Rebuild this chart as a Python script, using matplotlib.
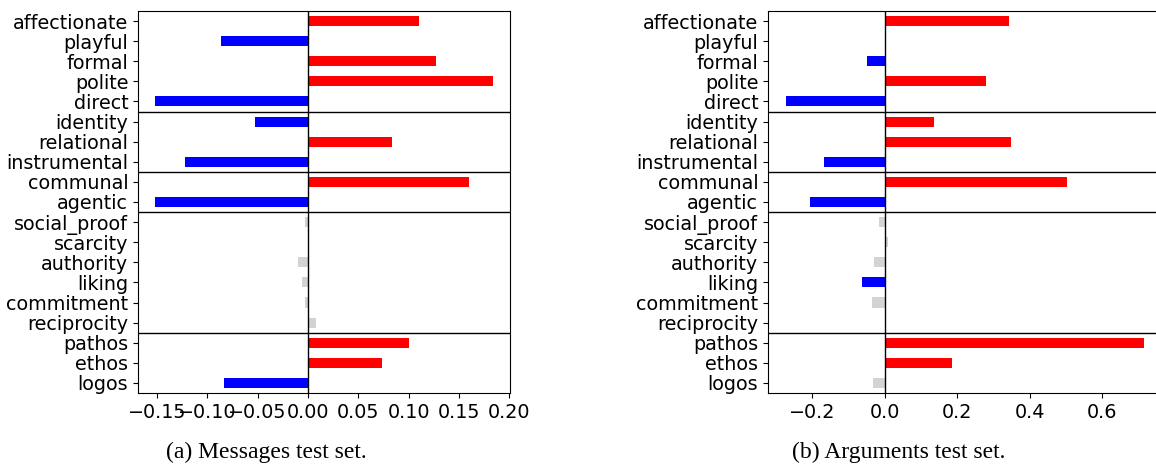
import numpy as np
import matplotlib
matplotlib.use('Agg')
import matplotlib.pyplot as plt

features = ['affectionate', 'playful', 'formal', 'polite', 'direct',
            'identity', 'relational', 'instrumental',
            'communal', 'agentic',
            'social_proof', 'scarcity', 'authority', 'liking', 'commitment', 'reciprocity',
            'pathos', 'ethos', 'logos']
# group boundaries (index of first feature of each new group)
group_starts = [5, 8, 10, 16]

# coefficients, messages test set
msg_coef = [0.110, -0.086, 0.127, 0.184, -0.152,
            -0.053, 0.084, -0.122,
            0.160, -0.152,
            -0.003, 0.0, -0.010, -0.006, -0.003, 0.008,
            0.100, 0.074, -0.083]
msg_sig = [1, 1, 1, 1, 1,
           1, 1, 1,
           1, 1,
           0, 0, 0, 0, 0, 0,
           1, 1, 1]

# coefficients, arguments test set
arg_coef = [0.343, 0.002, -0.050, 0.279, -0.273,
            0.136, 0.348, -0.169,
            0.504, -0.207,
            -0.015, 0.008, -0.030, -0.064, -0.036, 0.0,
            0.714, 0.186, -0.032]
arg_sig = [1, 0, 1, 1, 1,
           1, 1, 1,
           1, 1,
           0, 0, 0, 1, 0, 0,
           1, 1, 0]

plt.rcParams['font.family'] = 'DejaVu Sans'
plt.rcParams['font.size'] = 13.8


def bar_colors(coef, sig):
    cols = []
    for c, s in zip(coef, sig):
        if not s:
            cols.append('lightgray')
        elif c > 0:
            cols.append('red')
        else:
            cols.append('blue')
    return cols


def draw_panel(ax, coef, sig):
    y = np.arange(len(features))
    ax.barh(y, coef, height=0.5, color=bar_colors(coef, sig))
    ax.axvline(0, color='black', lw=1)
    for g in group_starts:
        ax.axhline(g - 0.5, color='black', lw=1)
    ax.set_yticks(y)
    ax.set_yticklabels(features)
    ax.set_ylim(len(features) - 0.5, -0.5)


fig = plt.figure(figsize=(11.56, 4.66), dpi=100)
ax1 = fig.add_axes([0.1194, 0.1567, 0.3218, 0.8197])
ax2 = fig.add_axes([0.6644, 0.1567, 0.3403, 0.8197])

draw_panel(ax1, msg_coef, msg_sig)
ax1.set_xticks([-0.15, -0.10, -0.05, 0.0, 0.05, 0.10, 0.15, 0.20])
ax1.set_xticklabels(['\u22120.15', '\u22120.10', '\u22120.05', '0.00', '0.05', '0.10', '0.15', '0.20'])

draw_panel(ax2, arg_coef, arg_sig)
ax2.set_xticks([-0.2, 0.0, 0.2, 0.4, 0.6])

fig.text(0.230, 0.030, '(a) Messages test set.', ha='center', va='center',
         family='Liberation Serif', fontsize=17)
fig.text(0.777, 0.030, '(b) Arguments test set.', ha='center', va='center',
         family='Liberation Serif', fontsize=17)

fig.savefig('out.png', dpi=100)
